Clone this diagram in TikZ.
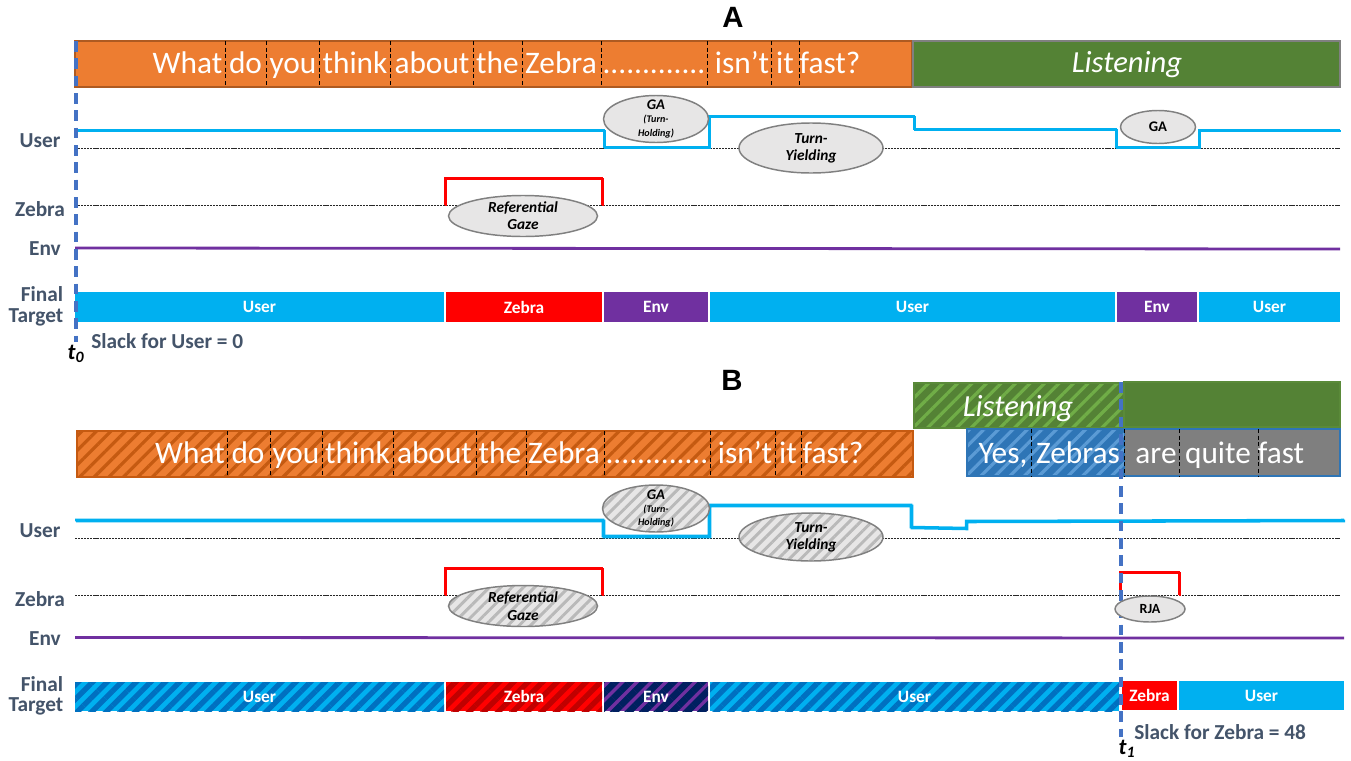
\documentclass[tikz,border=0pt]{standalone}
\usepackage{fontspec}
\setmainfont{Carlito}
\newfontfamily\titlefont{Liberation Sans}
\usetikzlibrary{patterns.meta,shapes.geometric}
\definecolor{cOrange}{HTML}{ED7D31}\definecolor{cOrangeD}{HTML}{C55A11}\definecolor{cOrangeB}{HTML}{AE5A21}
\definecolor{cGreen}{HTML}{548235}\definecolor{cGreenL}{HTML}{70AD47}
\definecolor{cSky}{HTML}{00B0F0}\definecolor{cBlueD}{HTML}{0070C0}
\definecolor{cRed}{HTML}{FF0000}\definecolor{cRedD}{HTML}{C00000}
\definecolor{cPurple}{HTML}{7030A0}\definecolor{cNavy}{HTML}{002060}
\definecolor{cDash}{HTML}{4472C4}\definecolor{cLabel}{HTML}{44546A}
\definecolor{cSteel}{HTML}{2E75B6}\definecolor{cSteelL}{HTML}{5B9BD5}
\definecolor{cGray}{HTML}{7F7F7F}\definecolor{cEll}{HTML}{E7E6E6}
\tikzset{
  x=0.75pt,y=-0.75pt,
  hatch/.style n args={3}{preaction={fill=#1},pattern={Lines[angle=45,distance=7.7pt,line width=#3]},pattern color=#2},
  speechA/.style={fill=cOrange,draw=cOrangeB,line width=1.2pt},
  speechB/.style={hatch={cOrange}{cOrangeD}{2.4pt},draw=cOrangeD,line width=1.2pt},
  listenA/.style={fill=cGreen,draw=gray,line width=0.8pt},
  listenB/.style={hatch={cGreen}{cGreenL}{2.4pt},draw=cGreenL!80!black,line width=0.8pt},
  yesbar/.style={hatch={cSteel}{cSteelL}{2.4pt},draw=cSteel,line width=0.8pt},
  graybar/.style={fill=cGray,draw=cSteel,line width=0.8pt},
  word/.style={text=white,font=\fontsize{23.5}{25}\selectfont,inner sep=0pt,anchor=base},
  sep/.style={black,densely dashed,line width=0.7pt},
  tbar/.style={text=white,font=\bfseries\fontsize{13}{15}\selectfont},
  fUser/.style={fill=cSky,tbar},
  fZebra/.style={fill=cRed,tbar},
  fEnv/.style={fill=cPurple,tbar},
  hUser/.style={hatch={cSky}{cBlueD}{4pt},tbar},
  hZebra/.style={hatch={cRed}{cRedD}{4pt},tbar},
  hEnv/.style={hatch={cPurple}{cNavy}{5pt},tbar},
  thick3/.style={line width=1.9pt,#1,preaction={draw,#1,line width=1.9pt,transform canvas={shift={(0.75pt,-0.75pt)}}}},
  sigUser/.style={thick3=cSky},
  sigRed/.style={thick3=cRed},
  sigEnv/.style={cPurple,line width=2.1pt},
  base/.style={black!85,dash pattern=on 1.6pt off 0.7pt,line width=0.6pt},
  tdash/.style={cDash,line width=1.9pt,dash pattern=on 8pt off 5pt,preaction={draw,cDash,line width=1.9pt,dash pattern=on 8pt off 5pt,transform canvas={xshift=0.75pt}}},
  lab/.style={text=cLabel,font=\bfseries\fontsize{16}{18}\selectfont,inner sep=0pt},
  tick/.style={black,font=\bfseries\itshape\fontsize{17}{19}\selectfont,inner sep=0pt},
  ttl/.style={font=\titlefont\bfseries\fontsize{22}{24}\selectfont,inner sep=0pt},
  ell/.style={ellipse,draw=gray,line width=1.1pt,fill=cEll,inner sep=0pt,align=center,text=black,font=\bfseries\itshape\fontsize{11.5}{13}\selectfont},
  gatext/.style={inner sep=0pt,align=center,text=black,font=\bfseries\itshape\fontsize{7.6}{10}\selectfont},
  ellH/.style={ell,preaction={fill=cEll},fill=none,pattern={Lines[angle=45,distance=6pt,line width=2.2pt]},pattern color=lightgray!90!gray},
}
\begin{document}
\begin{tikzpicture}
\useasboundingbox (0,0) rectangle (1351,760);
\fill[white] (0,0) rectangle (1351,760);
% ---------- Panel A
\node[ttl] (titleA) at (733,17) {A};
\draw[speechA] (75,41) rectangle (912,87);
\draw[listenA] (913,41) rectangle (1340,87);
\node[text=white,font=\itshape\fontsize{23}{25}\selectfont,inner sep=0pt] (listenAt) at (1127,65) {Listening};
\foreach \x in {225.5,266.5,319,390.6,473,522,601,707,771,799} \draw[sep] (\x,41) -- (\x,87);
\foreach \n/\x/\w in {a1/187.5/What,a2/245.5/do,a3/293/you,a4/355/think,a5/432/about,a6/497.5/the,a7/561/Zebra,a8/654/{.............},a9/742/{isn’t},a10/785/it,a11/830/{fast?}}
  \node[word] (\n) at (\x,73) {\w};
\draw[base] (75,148) -- (1340,148);
\draw[base] (75,205) -- (1340,205);
\draw[sigUser] (75,130) -- (604,130) -- (604,147) -- (709,147) -- (709,116) -- (914,116) -- (914,129) -- (1116,129) -- (1116,147) -- (1199,147) -- (1199,130) -- (1340,130);
\draw[sigRed] (445,205) -- (445,178) -- (602,178) -- (602,205);
\draw[sigEnv] (75,248) -- (1340,249);
\node[ell,minimum width=149pt*.75,minimum height=41pt*.75] (rgA) at (523,216) {Referential\\Gaze};
\node[ell,minimum width=105pt*.75,minimum height=47pt*.75] (gaA) at (656,119) {};
\node[gatext] (gaAt) at (gaA.center) {{\fontsize{11}{11}\selectfont GA}\\(Turn-\\Holding)};
\node[ell,minimum width=144pt*.75,minimum height=50pt*.75] (tyA) at (811,148) {Turn-\\Yielding};
\node[ell,minimum width=75pt*.75,minimum height=33pt*.75,font=\bfseries\fontsize{11}{13}\selectfont] (ga2A) at (1158,127) {GA};
\path[fUser] (75,292) rectangle node (fa1) {User} (444,322);
\path[fZebra] (446,292) rectangle node (fa2) {Zebra} (602,322);
\path[fEnv] (604,292) rectangle node (fa3) {Env} (708,322);
\path[fUser] (710,292) rectangle node (fa4) {User} (1115,322);
\path[fEnv] (1117,292) rectangle node (fa5) {Env} (1197,322);
\path[fUser] (1199,292) rectangle node (fa6) {User} (1340,322);
\node[lab] (uA) at (40,141) {User};
\node[lab] (zA) at (40,209) {Zebra};
\node[lab] (eA) at (45,249) {Env};
\node[lab] (f1A) at (42,294) {Final};
\node[lab] (f2A) at (36,317) {Target};
\node[lab,anchor=west] (slackA) at (91,341) {Slack for User = 0};
\coordinate (t0top) at (75.5,41);
\coordinate (t0end) at (75.5,342);
\node[tick] (t0) at (76,354) {t\textsubscript{0}};
\draw[tdash] (t0top) -- (t0end);
% ---------- Panel B
\node[ttl] (titleB) at (732,380) {B};
\draw[speechB] (77,431) rectangle (913,477);
\draw[listenB] (914,383) rectangle (1124,428);
\draw[fill=cGreen,draw=cGreenL!80!black,line width=0.8pt] (1124,382) rectangle (1340,427);
\node[text=white,font=\itshape\fontsize{23}{25}\selectfont,inner sep=0pt] (listenBt) at (1018,409) {Listening};
\draw[yesbar] (967,429) rectangle (1124.5,476);
\draw[graybar] (1124.5,429) rectangle (1340,476);
\foreach \x in {227,270,322,393,476,526,604,710.6,775,801} \draw[sep] (\x,431) -- (\x,477);
\foreach \x in {1031,1124.5,1179,1258} \draw[sep] (\x,429) -- (\x,476);
\foreach \n/\x/\w in {b1/190/What,b2/248/do,b3/296/you,b4/357.5/think,b5/434.5/about,b6/500/the,b7/564/Zebra,b8/657/{.............},b9/745/{isn’t},b10/788/it,b11/833/{fast?}}
  \node[word] (\n) at (\x,463) {\w};
\foreach \n/\x/\w in {c1/1003/{Yes,},c2/1078/Zebras,c3/1156/are,c4/1218/quite,c5/1281/fast}
  \node[word] (\n) at (\x,463) {\w};
\draw[base] (75,538) -- (1340,538);
\draw[base] (75,595) -- (1340,595);
\draw[sigUser] (75,520) -- (603,520) -- (603,536) -- (709,536) -- (709,505) -- (911,505) -- (911,527) -- (966,528) -- (966,521) -- (1344,520);
\draw[sigRed] (445,595) -- (445,568) -- (602,568) -- (602,595);
\draw[sigRed] (1120,595) -- (1120,572) -- (1179,572) -- (1179,595);
\draw[sigEnv] (75,637.5) -- (1344,638);
\node[ellH,minimum width=149pt*.75,minimum height=41pt*.75] (rgB) at (523,606) {Referential\\Gaze};
\node[ellH,minimum width=107pt*.75,minimum height=47pt*.75] (gaB) at (656,508.5) {};
\node[gatext] (gaBt) at (gaB.center) {{\fontsize{11}{11}\selectfont GA}\\(Turn-\\Holding)};
\node[ellH,minimum width=144pt*.75,minimum height=48pt*.75] (tyB) at (811,537) {Turn-\\Yielding};
\path[hUser] (75,682) rectangle node (fb1) {User} (444,711);
\path[hZebra] (446,682) rectangle node (fb2) {Zebra} (602,711);
\path[hEnv] (604,682) rectangle node (fb3) {Env} (708,711);
\path[hUser] (710,682) rectangle node (fb4) {User} (1119,711);
\path[fZebra] (1122,681) rectangle node (fb5) {Zebra} (1177,710);
\path[fUser] (1179,681) rectangle node (fb6) {User} (1344,710);
\node[lab] (uB) at (40,531) {User};
\node[lab] (zB) at (40,599) {Zebra};
\node[lab] (eB) at (45,639) {Env};
\node[lab] (f1B) at (42,684) {Final};
\node[lab] (f2B) at (36,706) {Target};
\node[lab,anchor=west] (slackB) at (1134,732) {Slack for Zebra = 48};
\coordinate (t1top) at (1120.5,382);
\coordinate (t1end) at (1120.5,737);
\node[tick] (t1) at (1127,749) {t\textsubscript{1}};
\draw[tdash] (t1top) -- (t1end);
\node[ell,minimum width=70pt*.75,minimum height=26pt*.75,font=\bfseries\fontsize{10.5}{12}\selectfont] (rja) at (1150,609) {RJA};
\end{tikzpicture}
\end{document}
